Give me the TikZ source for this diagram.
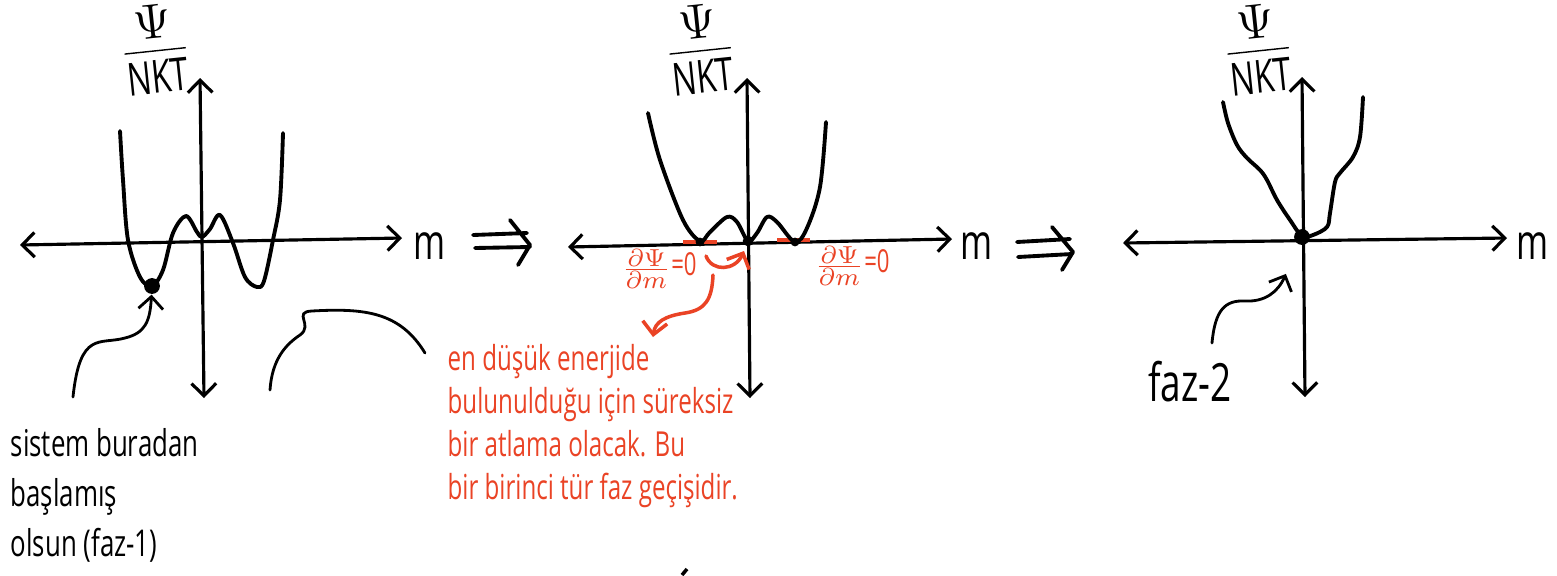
\RequirePackage{fix-cm}
\documentclass[tikz,border=0pt]{standalone}
\usepackage{fontspec}
\newfontfamily\hand[FakeStretch=0.7]{Open Sans}
\usetikzlibrary{arrows.meta}
\definecolor{kirmizi}{RGB}{234,67,37}

\begin{document}
\begin{tikzpicture}[x=0.01cm, y=-0.01cm, >={Straight Barb[length=3.5pt,width=7pt]},
    eksen/.style={line width=0.9pt, <->},
    egri/.style={line width=1.1pt, line cap=round, line join=round},
    ok/.style={line width=0.8pt, ->, line cap=round},
    nokta/.style={circle, fill, inner sep=0pt, minimum size=#1},
    yazi/.style={font=\hand\fontsize{10.5}{14.2}\selectfont, align=left, inner sep=0pt},
    harf/.style={font=\hand\fontsize{14}{16}\selectfont},
    kesir/.style={rotate=6, font=\fontsize{13}{15}\selectfont, inner sep=0pt},
    turev/.style={text=kirmizi, font=\fontsize{7}{8}\selectfont, inner sep=0pt}]
    \useasboundingbox (0,0) rectangle (1557,575);

    % grafik 1 : faz-1
    \coordinate (sol1) at (20,245);
    \coordinate (sag1) at (402,238);
    \coordinate (ust1) at (200,78);
    \coordinate (alt1) at (204,398);
    \draw[eksen] (sol1) -- (sag1);
    \draw[eksen] (ust1) -- (alt1);
    \node[harf] (m1) at (430,246) {m};
    \node[kesir] (psi1) at (155,49) {$\frac{\mbox{\fontsize{14}{14}\selectfont$\Psi$}\rule[-3pt]{0pt}{3pt}}{\mbox{\rule{0pt}{11.5pt}\hand NKT}}$};
    \draw[egri] plot[smooth, tension=0.55] coordinates {(120,131) (123,180) (128,240) (140,277) (152,286) (163,270) (173,233) (186,216) (197,232) (202,237) (210,229) (220,215) (233,243) (245,277) (257,287) (264,281) (273,240) (280,200) (283,133)};
    \node[nokta=4.5pt] (d1) at (152,286) {};

    \coordinate (s1) at (73,397);
    \draw[ok] (s1) .. controls (80,330) and (100,345) .. (125,338) .. controls (145,333) and (150,322) .. (d1);
    \node[yazi, anchor=north west] (t1) at (10,428) {sistem buradan\\başlamış\\olsun (faz-1)};

    % bos egri
    \coordinate (s4) at (270,390);
    \draw[line width=0.8pt, line cap=round] (s4) .. controls (272,360) and (285,345) .. (300,335) .. controls (314,325) and (292,312) .. (312,311) .. controls (365,308) and (400,312) .. (425,353);

    % isaret
    \draw[egri] (473,235) -- (527,233) (475,248) -- (530,247) (510,220) -- (530,245) -- (518,265);

    % grafik 2
    \coordinate (sol2) at (568,247);
    \coordinate (sag2) at (952,239);
    \coordinate (ust2) at (747,78);
    \coordinate (alt2) at (750,398);
    \draw[eksen] (sol2) -- (sag2);
    \draw[eksen] (ust2) -- (alt2);
    \node[harf] (m2) at (977,246) {m};
    \node[kesir] (psi2) at (700,49) {$\frac{\mbox{\fontsize{14}{14}\selectfont$\Psi$}\rule[-3pt]{0pt}{3pt}}{\mbox{\rule{0pt}{11.5pt}\hand NKT}}$};
    \draw[kirmizi, line width=1.2pt] (683,242) -- (717,242);
    \draw[kirmizi, line width=1.2pt] (777,240) -- (810,240);
    \draw[egri] plot[smooth, tension=0.55] coordinates {(648,113) (660,160) (683,220) (700,241) (710,232) (727,217) (737,222) (748,241) (757,233) (767,217) (777,222) (795,242) (807,228) (820,187) (826,122)};
    \node[nokta=2.5pt] (d2a) at (700,242) {};
    \node[nokta=3pt] (d2b) at (748,241) {};
    \node[nokta=2.5pt] (d2c) at (795,242) {};
    \node[turev] (turev1) at (659,269) {$\frac{\mbox{$\partial\Psi$}}{\mbox{$\partial m$}}$\mbox{\hand\fontsize{9}{9}\selectfont=0}};
    \node[turev] (turev2) at (852,266) {$\frac{\mbox{$\partial\Psi$}}{\mbox{$\partial m$}}$\mbox{\hand\fontsize{9}{9}\selectfont=0}};

    % atlama
    \coordinate (j1) at (706,256);
    \coordinate (j2) at (744,251);
    \draw[ok, kirmizi, line width=1pt] (j1) .. controls (712,272) and (735,271) .. (j2);
    \coordinate (s2) at (713,275);
    \coordinate (u2) at (653,337);
    \draw[ok, kirmizi, line width=1pt] (s2) .. controls (712,300) and (705,310) .. (685,313) .. controls (665,316) and (655,322) .. (u2);
    \node[yazi, text=kirmizi, font=\hand\fontsize{9.8}{12.2}\selectfont, anchor=north west] (aciklama) at (447,344) {en düşük enerjide\\bulunulduğu için süreksiz\\bir atlama olacak. Bu\\bir birinci tür faz geçişidir.};

    % isaret
    \draw[egri] (1017,242) -- (1070,239) (1018,257) -- (1072,254) (1052,227) -- (1073,252) -- (1062,270);

    % grafik 3 : faz-2
    \coordinate (sol3) at (1123,243);
    \coordinate (sag3) at (1507,238);
    \coordinate (ust3) at (1302,77);
    \coordinate (alt3) at (1305,397);
    \draw[eksen] (sol3) -- (sag3);
    \draw[eksen] (ust3) -- (alt3);
    \node[harf] (m3) at (1533,246) {m};
    \node[kesir] (psi3) at (1258,49) {$\frac{\mbox{\fontsize{14}{14}\selectfont$\Psi$}\rule[-3pt]{0pt}{3pt}}{\mbox{\rule{0pt}{11.5pt}\hand NKT}}$};
    \draw[egri] plot[smooth, tension=0.55] coordinates {(1223,102) (1228,123) (1237,145) (1247,158) (1260,170) (1267,180) (1277,200) (1290,220) (1302,236) (1313,235) (1327,227) (1330,213) (1335,182) (1340,173) (1353,157) (1360,137) (1363,97)};
    \node[nokta=4.5pt] (d3) at (1302,237) {};
    \coordinate (s3) at (1212,343);
    \draw[ok, shorten >=9pt] (s3) .. controls (1215,310) and (1225,300) .. (1245,301) .. controls (1265,302) and (1278,292) .. (d3);
    \node[yazi, font=\hand\fontsize{15}{17}\selectfont] (faz2) at (1190,382) {faz-2};

    \draw[line width=1pt] (682,575) -- (687,569);
\end{tikzpicture}
\end{document}
